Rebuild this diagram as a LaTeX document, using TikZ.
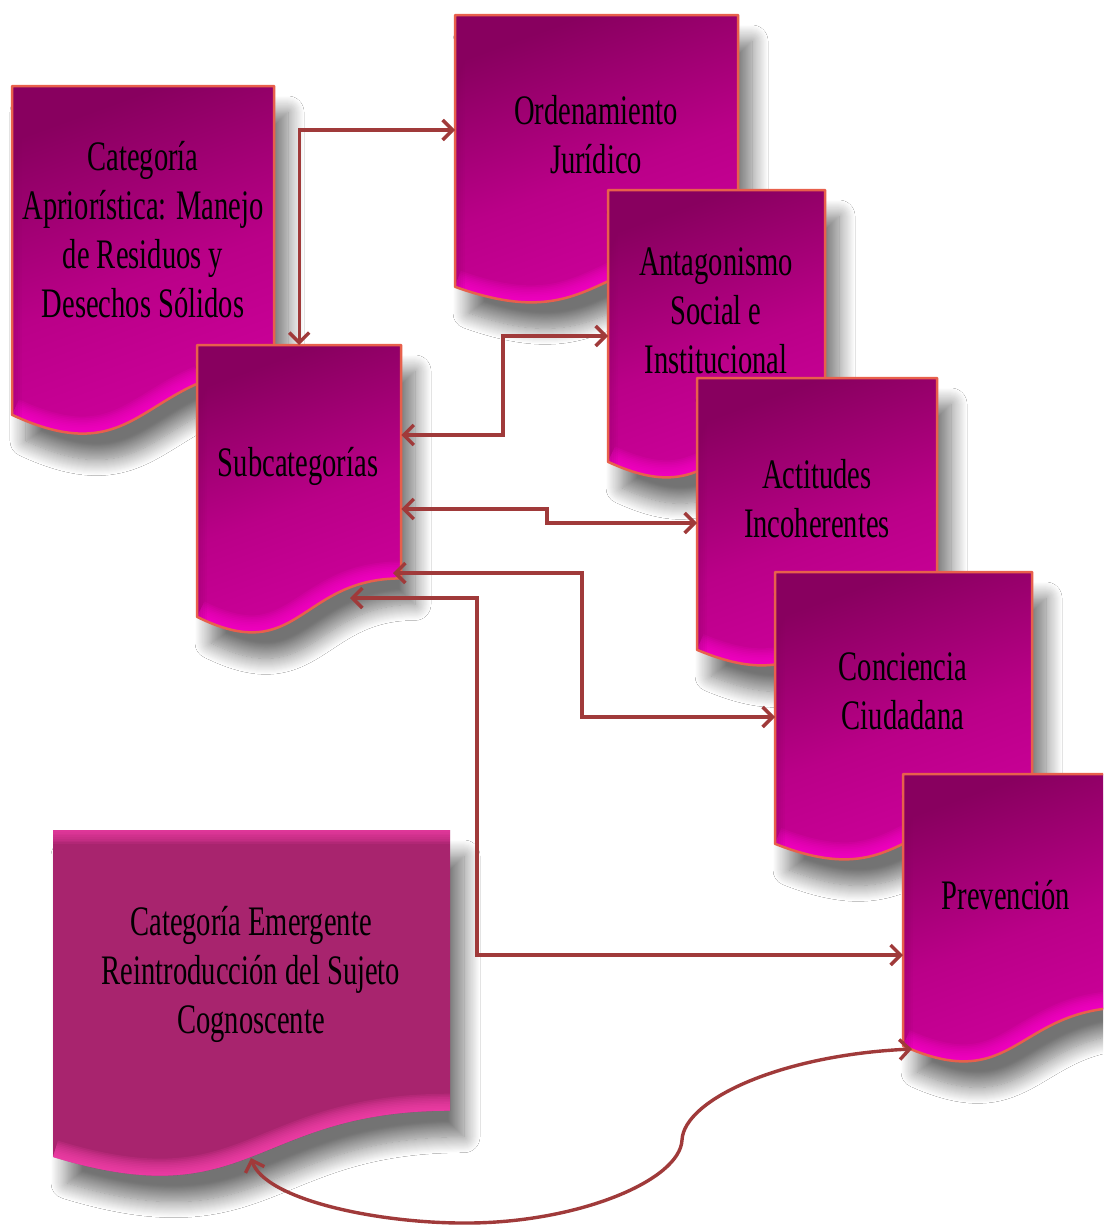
\documentclass[tikz,border=0pt]{standalone}
\usepackage{fontspec}
\setmainfont{Liberation Serif}[FakeStretch=0.68]
\usetikzlibrary{arrows.meta,shadows.blur,calc}
\definecolor{edgec}{HTML}{E8604C}
\definecolor{connc}{HTML}{A03A3A}
\definecolor{topc}{HTML}{88005F}
\definecolor{midc}{HTML}{BA0088}
\definecolor{botc}{HTML}{D200A0}
\definecolor{brightc}{HTML}{FF00D0}
\definecolor{emec}{HTML}{A8246E}
\definecolor{emebright}{HTML}{FF44B4}
\newcommand\docpath[4]{(#1,#2) -- ({#1+#3},#2) -- ({#1+#3},{#2+0.802*#4}) .. controls ({#1+0.5*#3},{#2+0.802*#4}) and ({#1+0.5*#3},{#2+1.108*#4}) .. (#1,{#2+0.934*#4}) -- cycle}
\newcommand\docwave[4]{({#1+#3},{#2+0.802*#4}) .. controls ({#1+0.5*#3},{#2+0.802*#4}) and ({#1+0.5*#3},{#2+1.108*#4}) .. (#1,{#2+0.934*#4})}
\tikzset{
  boxnode/.style={rectangle, draw=none, inner sep=0pt},
  shadowed/.style={blur shadow={shadow xshift=14pt, shadow yshift=-26pt, shadow blur radius=16pt, shadow blur steps=16, shadow opacity=55}},
  docfill/.style={shadowed, top color=topc, bottom color=botc, middle color=midc, shading angle=20},
  emefill/.style={shadowed, fill=emec},
  edge/.style={draw=edgec, line width=2.5pt, line join=round},
  txt/.style={align=center, inner sep=0pt, font=\fontsize{42}{49}\selectfont},
  conn/.style={draw=connc, line width=3.4pt, >={Straight Barb[length=10pt,width=20pt]}, <->},
}
\newcommand\glow[6]{% color, x, y, w, h, opacity per layer
  \foreach \i in {1,...,10} {\draw[line width={3.4*(11-\i)}, #1, opacity=#6] \docwave{#2}{#3}{#4}{#5};}
}
\newcommand\docbox[5]{%
  \node[boxnode, minimum width=#4, minimum height=#5, anchor=north west] (#1) at (#2,#3) {};
  \path[docfill] \docpath{#2}{#3}{#4}{#5};
  \begin{scope}
    \clip \docpath{#2}{#3}{#4}{#5};
    \glow{brightc}{#2}{#3}{#4}{#5}{0.13}
    \foreach \i in {1,...,5} {\draw[line width={4*(6-\i)}, topc, opacity=0.07] (#2,#3) -- ++(0,{0.95*#5});}
  \end{scope}
  \draw[edge] \docpath{#2}{#3}{#4}{#5};
}
\begin{document}
\begin{tikzpicture}[x=1pt,y=-1pt]
\useasboundingbox (0,0) rectangle (1103,1226);
\clip (0,0) rectangle (1103,1226);
\fill[white] (0,0) rectangle (1103,1226);

\docbox{cat}{12}{86}{262}{352}
\node[txt] (catT) at (143,230) {Categoría\\Apriorística: Manejo\\de Residuos y\\Desechos Sólidos};

\docbox{sub}{197}{345}{204}{291}
\node[txt] (subT) at (298,466) {Subcategorías};

\docbox{ord}{455}{15}{283}{291}
\node[txt] (ordT) at (596,135) {Ordenamiento\\Jurídico};

\docbox{ant}{608}{190}{217}{291}
\node[txt] (antT) at (716,311) {Antagonismo\\Social e\\Institucional};

\docbox{act}{697}{378}{240}{291}
\node[txt] (actT) at (817,499) {Actitudes\\Incoherentes};

\docbox{con}{775}{572}{257}{291}
\node[txt] (conT) at (903,691) {Conciencia\\Ciudadana};

\docbox{pre}{903}{774}{225}{291}
\node[txt] (preT) at (1006,895) {Prevención};

% emergent category
\node[boxnode, minimum width=397, minimum height=350, anchor=north west] (eme) at (53,830) {};
\path[emefill] \docpath{53}{830}{397}{350};
\begin{scope}
  \clip \docpath{53}{830}{397}{350};
  \glow{emebright}{53}{830}{397}{350}{0.14}
  \foreach \i in {1,...,8} {\draw[line width={3.5*(9-\i)}, emebright, opacity=0.12] (53,830) -- (450,830);}
\end{scope}
\node[txt] (emeT) at (251,974) {Categoría Emergente\\Reintroducción del Sujeto\\Cognoscente};

% connectors
\coordinate (subA) at (393,573);
\coordinate (subB) at (350,598);
\coordinate (emeb) at (251,1158);
\coordinate (preb) at (912,1049);
\draw[conn] (sub.north) |- (ord.west |- 0,130);
\draw[conn] (sub.east |- 0,435) -- (503,435) |- (ant.west |- 0,336);
\draw[conn] (sub.east |- 0,509) -- (547,509) |- (act.west |- 0,523);
\draw[conn] (subA) -- (582,573) |- (con.west |- 0,717);
\draw[conn] (subB) -- (477,598) |- (pre.west |- 0,955);
\draw[conn] (emeb) .. controls (265,1200) and (380,1224) .. (470,1223)
  .. controls (580,1222) and (680,1180) .. (682,1140)
  .. controls (684,1100) and (780,1055) .. (preb);
\end{tikzpicture}
\end{document}
